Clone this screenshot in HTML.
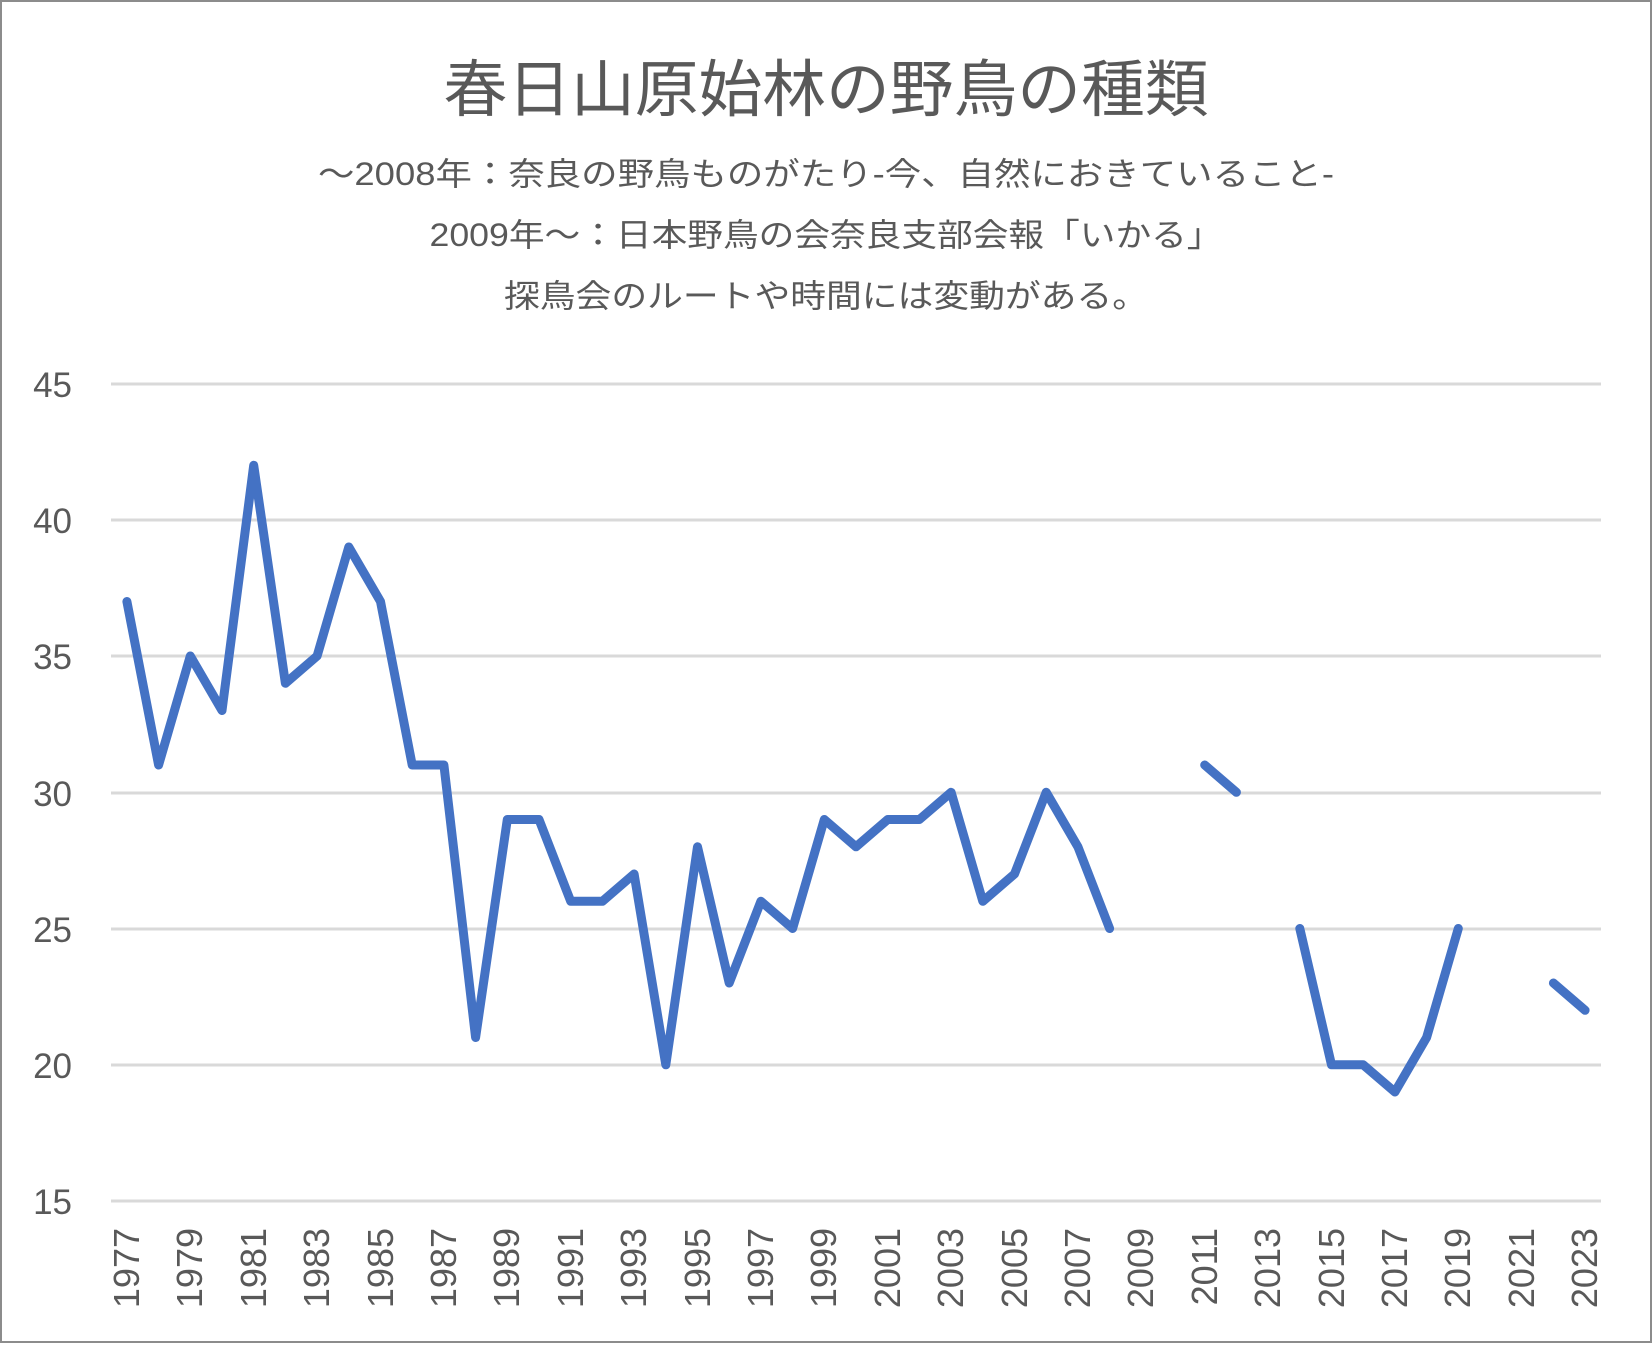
<!DOCTYPE html>
<html><head><meta charset="utf-8"><style>
body{margin:0;background:#fff}
svg text{font-family:"Liberation Sans","Noto Sans CJK JP",sans-serif;fill:#595959}
</style></head><body>
<svg width="1652" height="1343" viewBox="0 0 1652 1343" xmlns="http://www.w3.org/2000/svg">
<rect x="1" y="1" width="1650" height="1341" fill="#fff" stroke="#8c8c8c" stroke-width="2"/>
<text x="826" y="111" font-size="62" text-anchor="middle" textLength="765" lengthAdjust="spacingAndGlyphs">春日山原始林の野鳥の種類</text>
<text x="826" y="185" font-size="32" text-anchor="middle" textLength="1016" lengthAdjust="spacingAndGlyphs">～2008年：奈良の野鳥ものがたり-今、自然におきていること-</text>
<text x="826" y="246" font-size="32" text-anchor="middle" textLength="793" lengthAdjust="spacingAndGlyphs">2009年～：日本野鳥の会奈良支部会報「いかる」</text>
<text x="826" y="307" font-size="32" text-anchor="middle" textLength="644" lengthAdjust="spacingAndGlyphs">探鳥会のルートや時間には変動がある。</text>
<g stroke="#d9d9d9" stroke-width="3">
<line x1="111" x2="1601" y1="384" y2="384"/>
<line x1="111" x2="1601" y1="520" y2="520"/>
<line x1="111" x2="1601" y1="656" y2="656"/>
<line x1="111" x2="1601" y1="793" y2="793"/>
<line x1="111" x2="1601" y1="929" y2="929"/>
<line x1="111" x2="1601" y1="1065" y2="1065"/>
<line x1="111" x2="1601" y1="1201" y2="1201"/>
</g>
<g font-size="35" text-anchor="end">
<text x="72" y="397">45</text><text x="72" y="533">40</text><text x="72" y="669">35</text>
<text x="72" y="806">30</text><text x="72" y="942">25</text><text x="72" y="1078">20</text><text x="72" y="1214">15</text>
</g>
<g font-size="36" text-anchor="end">
<text transform="translate(139,1228) rotate(-90)">1977</text>
<text transform="translate(202,1228) rotate(-90)">1979</text>
<text transform="translate(266,1228) rotate(-90)">1981</text>
<text transform="translate(329,1228) rotate(-90)">1983</text>
<text transform="translate(393,1228) rotate(-90)">1985</text>
<text transform="translate(456,1228) rotate(-90)">1987</text>
<text transform="translate(519,1228) rotate(-90)">1989</text>
<text transform="translate(583,1228) rotate(-90)">1991</text>
<text transform="translate(646,1228) rotate(-90)">1993</text>
<text transform="translate(710,1228) rotate(-90)">1995</text>
<text transform="translate(773,1228) rotate(-90)">1997</text>
<text transform="translate(836,1228) rotate(-90)">1999</text>
<text transform="translate(900,1228) rotate(-90)">2001</text>
<text transform="translate(963,1228) rotate(-90)">2003</text>
<text transform="translate(1027,1228) rotate(-90)">2005</text>
<text transform="translate(1090,1228) rotate(-90)">2007</text>
<text transform="translate(1153,1228) rotate(-90)">2009</text>
<text transform="translate(1217,1228) rotate(-90)">2011</text>
<text transform="translate(1280,1228) rotate(-90)">2013</text>
<text transform="translate(1344,1228) rotate(-90)">2015</text>
<text transform="translate(1407,1228) rotate(-90)">2017</text>
<text transform="translate(1470,1228) rotate(-90)">2019</text>
<text transform="translate(1534,1228) rotate(-90)">2021</text>
<text transform="translate(1597,1228) rotate(-90)">2023</text>
</g>
<g fill="none" stroke="#4472c4" stroke-width="9" stroke-linejoin="round" stroke-linecap="round">
<polyline points="126.9,601.5 158.6,765 190.3,656 222,710.5 253.7,465.3 285.4,683.3 317.1,656 348.8,547 380.5,601.5 412.2,765 443.9,765 475.6,1037.5 507.3,819.5 539,819.5 570.7,901.3 602.4,901.3 634.1,874 665.8,1064.8 697.5,846.8 729.2,983 760.9,901.3 792.6,928.5 824.3,819.5 856,846.8 887.7,819.5 919.4,819.5 951.1,792.3 982.8,901.3 1014.5,874 1046.2,792.3 1077.9,846.8 1109.6,928.5"/>
<polyline points="1204.7,765 1236.4,792.3"/>
<polyline points="1299.8,928.5 1331.5,1064.8 1363.2,1064.8 1394.9,1092 1426.6,1037.5 1458.3,928.5"/>
<polyline points="1553.4,983 1585.1,1010.3"/>
</g>
</svg>
</body></html>
